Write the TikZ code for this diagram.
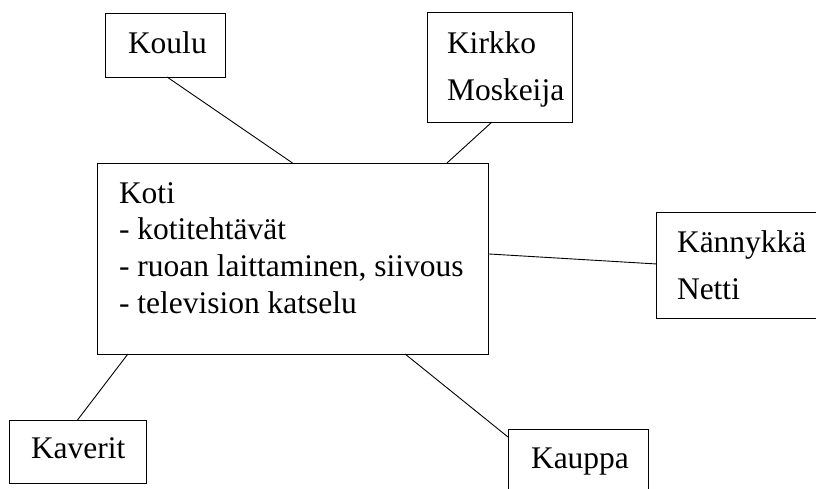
\documentclass[tikz,border=0pt]{standalone}
\usepackage{fontspec}
\setmainfont{Liberation Serif}
\usetikzlibrary{calc}
\tikzset{
  box/.style={draw=black, line width=1pt, rectangle, inner sep=0pt, outer sep=0pt, anchor=north west},
  txt/.style={inner sep=0pt, outer sep=0pt, anchor=base west, text=black},
  link/.style={draw=black, line width=0.9pt},
}
\newcommand{\tightlines}[1]{\fontsize{31.5}{36.7}\selectfont\begin{tabular}[t]{@{}l@{}}#1\end{tabular}}
\newcommand{\looselines}[1]{\fontsize{31.5}{47.5}\selectfont\begin{tabular}[t]{@{}l@{}}#1\end{tabular}}
\begin{document}
\begin{tikzpicture}[x=1pt, y=-1pt]
\useasboundingbox (0,0) rectangle (816,488);
\clip (0,0) rectangle (816,488);
\fill[white] (0,0) rectangle (816,488);

% boxes
\node[box, minimum width=120pt, minimum height=64pt]  (koulu)    at (105,13)  {};
\node[box, minimum width=145pt, minimum height=110pt] (kirkko)   at (427,12)  {};
\node[box, minimum width=391pt, minimum height=191pt] (koti)     at (97,163)  {};
\node[box, minimum width=200pt, minimum height=106pt] (kannykka) at (656,212) {};
\node[box, minimum width=137pt, minimum height=63pt]  (kaverit)  at (9,420)   {};
\node[box, minimum width=140pt, minimum height=80pt]  (kauppa)   at (508,429) {};

% texts
\node[txt] (koulu-t)    at (128,53)  {\fontsize{31.5}{36.7}\selectfont Koulu};
\node[txt] (kirkko-t)   at (447,53)  {\looselines{Kirkko\\Moskeija}};
\node[txt] (koti-t)     at (119,203) {\tightlines{Koti\\- kotitehtävät\\- ruoan laittaminen, siivous\\- television katselu}};
\node[txt] (kannykka-t) at (677,252) {\looselines{Kännykkä\\Netti}};
\node[txt] (kaverit-t)  at (31,458)  {\fontsize{31.5}{36.7}\selectfont Kaverit};
\node[txt] (kauppa-t)   at (531,468) {\fontsize{31.5}{36.7}\selectfont Kauppa};

% connectors
\draw[link] ($(koulu.south west)!0.517!(koulu.south east)$) -- (koti.north);
\draw[link] ($(kirkko.south west)!0.448!(kirkko.south east)$) -- ($(koti.north west)!0.895!(koti.north east)$);
\draw[link] ($(koti.north east)!0.476!(koti.south east)$) -- ($(kannykka.north west)!0.49!(kannykka.south west)$);
\draw[link] ($(koti.south west)!0.079!(koti.south east)$) -- (kaverit.north);
\draw[link] ($(koti.south west)!0.788!(koti.south east)$) -- ($(kauppa.north west)!0.1!(kauppa.south west)$);
\end{tikzpicture}
\end{document}
